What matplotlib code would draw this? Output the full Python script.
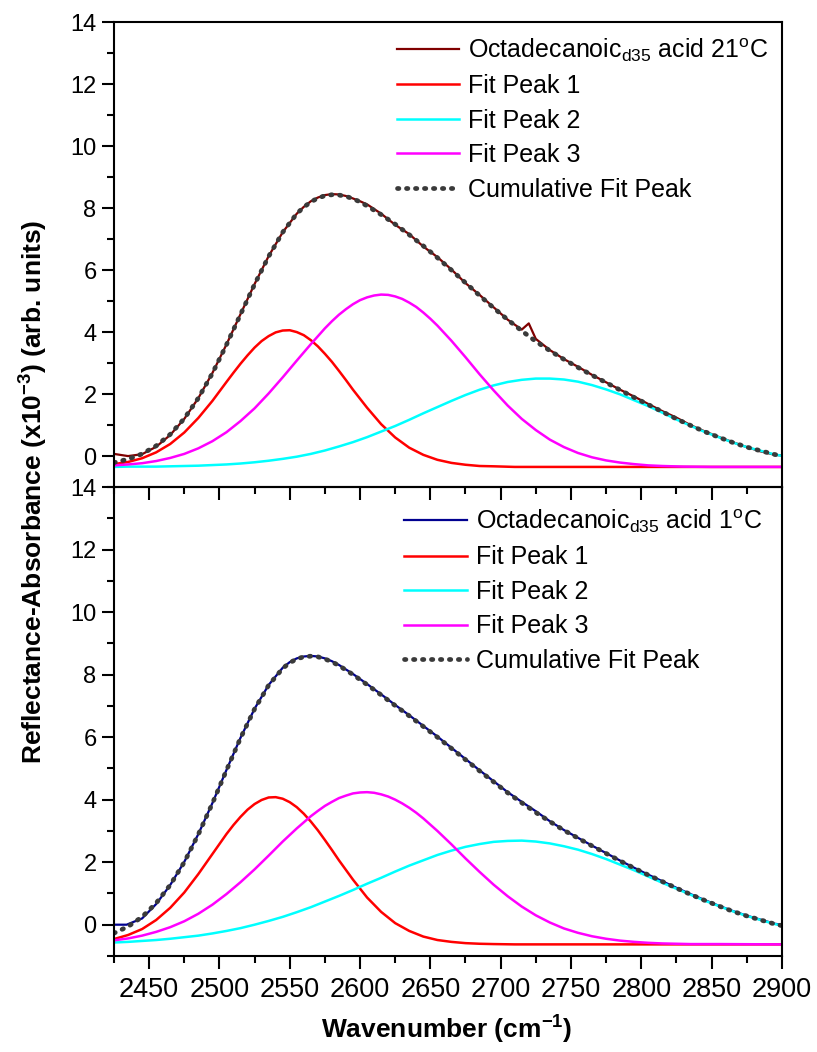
import matplotlib
matplotlib.use("Agg")
import matplotlib.pyplot as plt
from matplotlib.ticker import MultipleLocator

plt.rcParams['font.family'] = ['Liberation Sans', 'DejaVu Sans']
plt.rcParams['mathtext.default'] = 'regular'


def rng(a, b, step):
    return list(range(a, b + 1, step))


# common wavenumber grid (cm-1) used for the broad curves
wn = rng(2425, 2895, 10) + [2900]

# ---------------- 21 C (top panel) ----------------
x_data_21 = rng(2425, 2555, 10) + rng(2560, 2600, 5) + rng(2605, 2715, 10) + [2720] + rng(2725, 2895, 10) + [2900]
y_data_21 = [0.07, 0.00, 0.06, 0.30, 0.68, 1.20, 1.87, 2.68, 3.60, 4.58, 5.55, 6.45, 7.22, 7.82,
             8.04, 8.22, 8.34, 8.42, 8.45, 8.44, 8.39, 8.31, 8.22,
             8.12, 7.82, 7.46, 7.16, 6.76, 6.42, 6.02, 5.58, 5.20, 4.80, 4.40, 4.08,
             4.28,
             3.78, 3.42, 3.13, 2.88, 2.62, 2.38, 2.14, 1.92, 1.68, 1.45, 1.24, 1.00, 0.80, 0.62,
             0.45, 0.29, 0.15, 0.04,
             0.02]

x_p1_21 = rng(2425, 2505, 10) + rng(2510, 2595, 5) + rng(2605, 2695, 10) + [2710, 2900]
y_p1_21 = [-0.26, -0.19, -0.07, 0.12, 0.39, 0.76, 1.23, 1.78, 2.39,
           2.69, 2.98, 3.25, 3.50, 3.71, 3.87, 3.99, 4.05, 4.06, 4.00, 3.90, 3.74, 3.54, 3.30,
           3.04, 2.75, 2.45, 2.14,
           1.56, 1.03, 0.60, 0.27, 0.04, -0.12, -0.22, -0.28, -0.32, -0.33,
           -0.35, -0.35]

x_p2_21 = wn
y_p2_21 = [-0.35, -0.34, -0.34, -0.34, -0.33, -0.32, -0.31, -0.29, -0.27, -0.24, -0.20, -0.15, -0.09, -0.02,
           0.07, 0.18, 0.31, 0.45, 0.61, 0.79, 0.97, 1.17, 1.38, 1.58, 1.78, 1.97, 2.14, 2.28,
           2.39, 2.46, 2.50, 2.50, 2.47, 2.40, 2.29, 2.15, 1.99, 1.80, 1.61, 1.40, 1.18, 0.98,
           0.78, 0.61, 0.44, 0.29, 0.17, 0.05, 0.01]

x_p3_21 = rng(2425, 2575, 10) + rng(2580, 2650, 5) + rng(2655, 2815, 10) + [2830, 2850, 2900]
y_p3_21 = [-0.30, -0.27, -0.23, -0.16, -0.06, 0.07, 0.25, 0.48, 0.77, 1.13, 1.54, 2.02, 2.54, 3.08,
           3.61, 4.12,
           4.35, 4.56, 4.74, 4.90, 5.03, 5.12, 5.18, 5.21, 5.20, 5.15, 5.07, 4.95, 4.81, 4.63, 4.43,
           4.21, 3.72, 3.19, 2.64, 2.12, 1.63, 1.20, 0.84, 0.53, 0.29, 0.10, -0.04, -0.14, -0.21,
           -0.26, -0.30, -0.32,
           -0.34, -0.35, -0.35]

x_cum_21 = rng(2425, 2555, 10) + rng(2560, 2600, 5) + rng(2605, 2895, 10) + [2900]
y_cum_21 = [-0.21, -0.10, 0.07, 0.33, 0.70, 1.21, 1.87, 2.67, 3.59, 4.57, 5.54, 6.44, 7.22, 7.82,
            8.03, 8.20, 8.32, 8.40, 8.43, 8.42, 8.38, 8.30, 8.20,
            8.07, 7.79, 7.48, 7.14, 6.78, 6.40, 6.00, 5.59, 5.18, 4.78, 4.40, 4.04, 3.70, 3.40,
            3.12, 2.86, 2.61, 2.37, 2.13, 1.89, 1.66, 1.43, 1.20, 0.99, 0.79, 0.61, 0.44, 0.29,
            0.17, 0.05,
            0.01]

# ---------------- 1 C (bottom panel) ----------------
x_data_1 = [2425, 2434] + rng(2445, 2545, 10) + rng(2550, 2580, 5) + rng(2585, 2895, 10) + [2900]
y_data_1 = [0.00, 0.00,
            0.20, 0.66, 1.27, 2.01, 2.90, 3.89, 4.95, 5.98, 6.91, 7.67, 8.22,
            8.40, 8.52, 8.58, 8.60, 8.58, 8.52, 8.43,
            8.31, 8.02, 7.70, 7.37, 7.03, 6.70, 6.36, 6.02, 5.66, 5.30, 4.94, 4.59, 4.24, 3.93,
            3.63, 3.31, 3.03, 2.78, 2.53, 2.29, 2.05, 1.82, 1.60, 1.39, 1.18, 0.98, 0.79, 0.61,
            0.44, 0.29, 0.16, 0.03,
            0.00]

x_p1_1 = rng(2425, 2495, 10) + rng(2500, 2580, 5) + rng(2585, 2695, 10) + [2710, 2900]
y_p1_1 = [-0.46, -0.33, -0.14, 0.15, 0.54, 1.03, 1.62, 2.26,
          2.58, 2.90, 3.19, 3.45, 3.68, 3.86, 3.99, 4.07, 4.08, 4.03, 3.92, 3.76, 3.55, 3.30,
          3.02, 2.71, 2.39,
          2.06, 1.44, 0.87, 0.41, 0.05, -0.20, -0.38, -0.49, -0.55, -0.59, -0.61, -0.62,
          -0.63, -0.63]

x_p2_1 = wn
y_p2_1 = [-0.57, -0.55, -0.52, -0.49, -0.45, -0.40, -0.35, -0.28, -0.20, -0.11, 0.00, 0.12, 0.25, 0.40,
          0.56, 0.74, 0.92, 1.11, 1.31, 1.50, 1.70, 1.89, 2.06, 2.23, 2.37, 2.49, 2.58, 2.65,
          2.68, 2.69, 2.66, 2.60, 2.51, 2.40, 2.26, 2.10, 1.92, 1.74, 1.54, 1.34, 1.15, 0.96,
          0.77, 0.60, 0.43, 0.28, 0.15, 0.02, -0.03]

x_p3_1 = rng(2425, 2565, 10) + rng(2570, 2640, 5) + rng(2645, 2835, 10) + [2855, 2900]
y_p3_1 = [-0.50, -0.44, -0.35, -0.23, -0.08, 0.11, 0.35, 0.64, 0.98, 1.36, 1.77, 2.21, 2.66, 3.08,
          3.47,
          3.64, 3.80, 3.93, 4.05, 4.13, 4.20, 4.23, 4.24, 4.22, 4.17, 4.10, 4.00, 3.88, 3.74, 3.58,
          3.40, 3.00, 2.57, 2.12, 1.69, 1.28, 0.91, 0.58, 0.30, 0.07, -0.12, -0.26, -0.37, -0.45,
          -0.51, -0.55, -0.58, -0.60, -0.61, -0.62,
          -0.62, -0.63]

x_cum_1 = rng(2425, 2545, 10) + rng(2550, 2580, 5) + rng(2585, 2895, 10) + [2900]
y_cum_1 = [-0.27, -0.06, 0.25, 0.69, 1.27, 2.00, 2.89, 3.88, 4.94, 5.97, 6.90, 7.66, 8.20,
           8.38, 8.50, 8.57, 8.59, 8.57, 8.50, 8.41,
           8.29, 8.00, 7.68, 7.35, 7.01, 6.68, 6.34, 6.00, 5.64, 5.28, 4.92, 4.57, 4.22, 3.90,
           3.59, 3.30, 3.02, 2.77, 2.52, 2.28, 2.04, 1.81, 1.59, 1.38, 1.17, 0.97, 0.78, 0.60,
           0.43, 0.28, 0.15, 0.02,
           -0.03]

labels_top = [r'Octadecanoic$_{d35}$ acid 21$^{o}$C', 'Fit Peak 1', 'Fit Peak 2', 'Fit Peak 3',
              'Cumulative Fit Peak']
labels_bot = [r'Octadecanoic$_{d35}$ acid 1$^{o}$C', 'Fit Peak 1', 'Fit Peak 2', 'Fit Peak 3',
              'Cumulative Fit Peak']

fig = plt.figure(figsize=(8.17, 10.52), dpi=100)
ax1 = fig.add_axes([0.1395, 0.537, 0.8175, 0.442])
ax2 = fig.add_axes([0.1395, 0.0913, 0.8175, 0.4457])
ax2.patch.set_visible(False)


def draw_panel(ax, curves, data_color, labels, pad):
    (xd, yd), (x1, y1), (x2, y2), (x3, y3), (xc, yc) = curves
    ax.plot(xd, yd, color=data_color, lw=1.6, label=labels[0])
    ax.plot(x1, y1, color='#ff0000', lw=1.8, label=labels[1])
    ax.plot(x2, y2, color='#00ffff', lw=1.8, label=labels[2])
    ax.plot(x3, y3, color='#ff00ff', lw=1.8, label=labels[3])
    ax.plot(xc, yc, color='#3a3a3a', lw=3.4, ls=(0, (0.3, 1.6)),
            dash_capstyle='round', label=labels[4])

    ax.set_xlim(2425, 2900)
    ax.set_ylim(-1, 14)
    ax.xaxis.set_major_locator(MultipleLocator(50))
    ax.xaxis.set_minor_locator(MultipleLocator(25))
    ax.yaxis.set_minor_locator(MultipleLocator(1))
    ax.set_yticks(range(0, 15, 2))
    ax.tick_params(which='both', direction='out', width=1.5, top=False, right=False)
    ax.tick_params(axis='y', labelsize=17)
    ax.tick_params(axis='x', labelsize=19.5, pad=6)
    ax.tick_params(which='major', length=9)
    ax.tick_params(which='minor', length=5)
    for sp in ax.spines.values():
        sp.set_linewidth(1.5)

    ax.legend(loc='upper right', frameon=False, fontsize=18, handlelength=2.5,
              handletextpad=0.35, labelspacing=0.42, borderaxespad=pad)


draw_panel(ax1, [(x_data_21, y_data_21), (x_p1_21, y_p1_21), (x_p2_21, y_p2_21),
                 (x_p3_21, y_p3_21), (x_cum_21, y_cum_21)], '#800000', labels_top, 0.15)
draw_panel(ax2, [(x_data_1, y_data_1), (x_p1_1, y_p1_1), (x_p2_1, y_p2_1),
                 (x_p3_1, y_p3_1), (x_cum_1, y_cum_1)], '#000090', labels_bot, 0.4)
ax1.tick_params(labelbottom=False)

fig.text(0.042, 0.533, r'Reflectance-Absorbance (x10$^{-3}$) (arb. units)', rotation=90,
         ha='center', va='center', fontsize=19, fontweight='bold')
fig.text(0.547, 0.021, r'Wavenumber (cm$^{-1}$)', ha='center', va='center',
         fontsize=19, fontweight='bold')

fig.savefig('out.png', dpi=100)
